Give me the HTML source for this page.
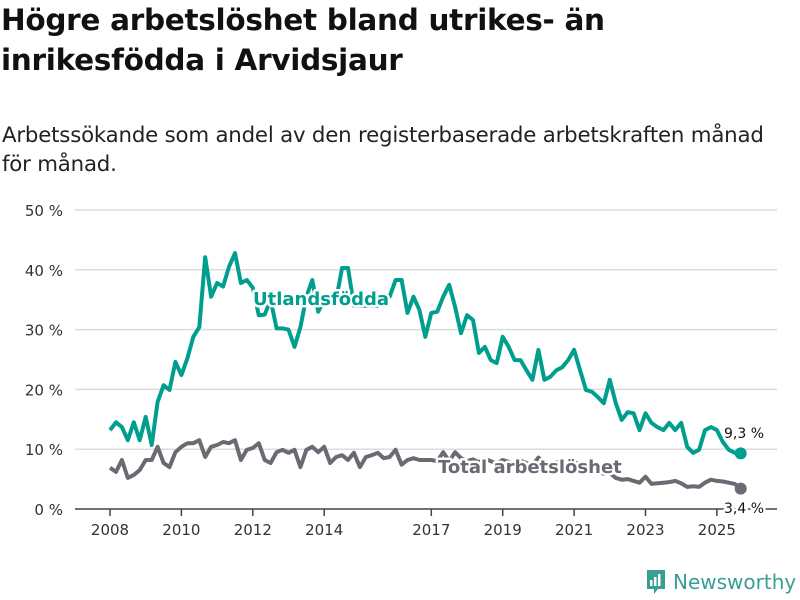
<!DOCTYPE html>
<html><head><meta charset="utf-8">
<style>
body{margin:0;width:800px;height:600px;background:#fff;font-family:"DejaVu Sans","Liberation Sans",sans-serif;overflow:hidden;position:relative}
.t{position:absolute;left:1px;top:0px;font-size:29.5px;font-weight:bold;line-height:40px;color:#111;letter-spacing:-0.3px}
.s{position:absolute;left:2px;top:121px;font-size:21.3px;line-height:29px;color:#222;letter-spacing:-0.2px}
</style></head><body>
<div class="t">Högre arbetslöshet bland utrikes- än<br>inrikesfödda i Arvidsjaur</div>
<div class="s">Arbetssökande som andel av den registerbaserade arbetskraften månad<br>för månad.</div>
<svg id="c" width="800" height="600" style="position:absolute;left:0;top:0"></svg>
<div style="position:absolute;left:645px;top:569px;display:flex;align-items:center">
<svg width="22" height="26" viewBox="0 0 22 26"><path d="M2 1h18v19H13l-4 5v-5H2z" fill="#3a9e93"/><rect x="5" y="11" width="2.5" height="6" fill="#fff"/><rect x="9" y="8" width="2.5" height="9" fill="#fff"/><rect x="13" y="5" width="2.5" height="12" fill="#fff"/></svg>
<span style="font-size:20px;color:#3a9e93;margin-left:6px;font-family:'DejaVu Sans',sans-serif">Newsworthy</span></div>
<script>
const startYear=2008, step=1/6;
const foreign=[13.2,14.5,13.7,11.5,14.5,11.5,15.4,10.7,17.9,20.7,19.9,24.6,22.4,25.2,28.8,30.4,42.1,35.5,37.8,37.2,40.5,42.8,37.8,38.3,37,32.4,32.5,35,30.2,30.2,30,27.1,30.4,35.5,38.3,33,35,35,35,40.3,40.3,34,34,34,34,34,35,35.5,38.3,38.3,32.8,35.5,33.3,28.8,32.8,33,35.5,37.5,33.8,29.4,32.4,31.6,26.1,27.1,24.9,24.4,28.8,27.1,24.9,24.9,23.2,21.6,26.6,21.6,22.1,23.2,23.7,24.9,26.6,23.2,19.9,19.6,18.7,17.7,21.6,17.7,14.9,16.2,16,13.2,16,14.4,13.7,13.2,14.4,13.2,14.4,10.4,9.4,9.9,13.2,13.7,13.2,11.2,9.9,9.4,9.3];
const total=[6.9,6.2,8.2,5.2,5.7,6.5,8.2,8.2,10.4,7.7,7.0,9.5,10.4,11,11,11.5,8.7,10.4,10.7,11.2,11,11.5,8.2,9.9,10.2,11,8.2,7.7,9.5,9.9,9.4,9.9,7.0,9.9,10.4,9.5,10.4,7.7,8.7,9.0,8.2,9.4,7.0,8.7,9.0,9.4,8.5,8.7,9.9,7.4,8.2,8.5,8.2,8.2,8.2,8.0,9.5,8.0,9.5,8.5,8.0,8.3,7.8,8.4,8.0,7.6,8.2,7.9,7.5,8.1,7.7,7.3,8.6,7.6,7.4,7.8,7.9,7.5,8.0,7.2,6.8,6.5,6.2,5.9,6.0,5.2,4.9,5.0,4.7,4.4,5.4,4.2,4.3,4.4,4.5,4.7,4.3,3.7,3.8,3.7,4.4,4.9,4.7,4.6,4.4,4.2,3.4];
const yTicks=[0,10,20,30,40,50];
const yTickLabels=["0 %","10 %","20 %","30 %","40 %","50 %"];
const xTicks=[2008,2010,2012,2014,2017,2019,2021,2023,2025];
const NS="http://www.w3.org/2000/svg", svg=document.getElementById('c');
const X=t=>110+(t-2008)*35.7, Y=v=>509-v*5.98;
function mk(tag,at,txt){const e=document.createElementNS(NS,tag);for(const k in at)e.setAttribute(k,at[k]);if(txt!=null)e.textContent=txt;svg.appendChild(e);return e;}
yTicks.forEach((v,i)=>{
 if(v>0){const g=mk('line',{x1:75,x2:777,y1:Y(v),y2:Y(v),stroke:'#dcdcdc','stroke-width':1.5});
 
 }
 const l=mk('text',{x:63,y:Y(v)+6,'text-anchor':'end','font-size':15,fill:'#333','font-family':'DejaVu Sans,sans-serif'},yTickLabels[i]);
 
 
});
const ax=mk('line',{x1:75,x2:777,y1:509,y2:509,stroke:'#444','stroke-width':1.5});


xTicks.forEach(t=>{
 const tk=mk('line',{x1:X(t),x2:X(t),y1:509,y2:516,stroke:'#444','stroke-width':1.5});
 
 
 const l=mk('text',{x:X(t),y:535,'text-anchor':'middle','font-size':15,fill:'#333','font-family':'DejaVu Sans,sans-serif'},String(t));
 
 
});
function line(data,color,name){
 const d=data.map((v,i)=>(i?'L':'M')+X(startYear+i*step).toFixed(1)+','+Y(v).toFixed(1)).join('');
 const p=mk('path',{d:d,fill:'none',stroke:color,'stroke-width':4,'stroke-linejoin':'round'});
 
 
 const n=data.length-1;
 const c=mk('circle',{cx:X(startYear+n*step),cy:Y(data[n]),r:6,fill:color});
 
 
}
line(total,'#6b6a72','total-line');
line(foreign,'#009e8e','foreign-line');
function lab(x,y,txt,color,size,bold,name){
 const e=mk('text',{x:x,y:y,'font-size':size,'font-weight':bold?'bold':'normal',fill:color,stroke:'#fff','stroke-width':5,'paint-order':'stroke','stroke-linejoin':'round','font-family':'DejaVu Sans,sans-serif'},txt);
 
 
}
lab(253,305,'Utlandsfödda','#009e8e',18,true,'foreign-series-label');
lab(438,473,'Total arbetslöshet','#6b6a72',18,true,'total-series-label');
lab(724,438,'9,3 %','#111',14,false,'foreign-last-value');
lab(724,513,'3,4 %','#111',14,false,'total-last-value');
</script>
</body></html>
